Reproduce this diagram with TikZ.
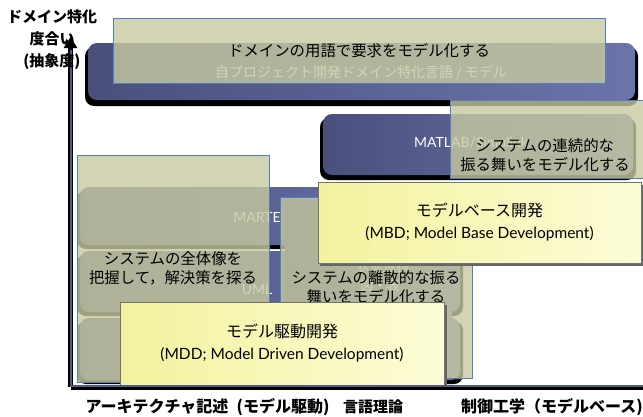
\documentclass[tikz,border=0pt]{standalone}
\usepackage{fontspec}
\setmainfont{Noto Sans CJK JP}
\newfontfamily\lat{Lato}
\usetikzlibrary{arrows.meta}
\definecolor{bluA}{RGB}{74,80,124}
\definecolor{bluB}{RGB}{108,116,172}
\definecolor{tanF}{RGB}{200,202,160}
\definecolor{tanE}{RGB}{79,129,189}
\definecolor{ylA}{RGB}{243,243,158}
\definecolor{ylB}{RGB}{252,252,214}
\definecolor{axisc}{RGB}{82,90,134}
\begin{document}
\begin{tikzpicture}[x=1pt,y=-1pt,
  bluebox/.style={rounded corners=9pt, left color=bluA, right color=bluB, inner sep=0pt},
  shade box/.style={rounded corners=9pt, fill=black},
  tanbox/.style={fill=tanF, fill opacity=0.8, text opacity=1, draw=tanE, line width=0.8pt, inner sep=0pt, align=center},
  ylbox/.style={left color=ylA, right color=ylB, draw=black!55, line width=0.6pt, inner sep=0pt, align=center},
  jp/.style={font=\fontsize{15.4}{19}\selectfont},
  wlat/.style={text=white, font=\lat\fontsize{14}{14}\selectfont, inner sep=0pt},
  axlab/.style={font=\bfseries\fontsize{16}{20}\selectfont, inner sep=0pt},
  axisline/.style={line width=5pt, black},
  axisin/.style={line width=2pt, axisc}
]
\useasboundingbox (0,0) rectangle (643,416);
\fill[white] (0,0) rectangle (643,416);

% vertical axis
\coordinate (O) at (70.5,387);
\coordinate (Ytop) at (70.5,37);
\coordinate (Ymid) at (70.5,50);
\coordinate (Xend) at (643,387);
\draw[axisline, -{Triangle[length=11pt,width=13pt]}] (O) -- (Ytop);
\draw[axisin] (O) -- (Ymid);

% top DSL block
\fill[shade box] (85,47) rectangle (638,106);
\node[bluebox, minimum width=547pt, minimum height=57pt] (dslbg) at (361.5,71.5) {};
\node[text=white, font=\fontsize{14}{14}\selectfont, inner sep=0pt] (dsltxt) at (361,73) {自プロジェクト開発ドメイン特化言語 / モデル};
\node[tanbox, jp, minimum width=492pt, minimum height=65pt] (req) at (359,51) {ドメインの用語で要求をモデル化する};

% MATLAB block
\fill[shade box] (320,118) rectangle (636,180);
\node[bluebox, minimum width=310pt, minimum height=61pt] (mlbg) at (478,144.5) {};
\node[wlat, anchor=west] (mltxt) at (414,143) {MATLAB/Simulink};
\node[tanbox, minimum width=200pt, minimum height=78pt] (contbox) at (550,139) {};
\node[jp, align=center, inner sep=0pt] (conttxt) at (545,155) {システムの連続的な\\振る舞いをモデル化する};

% MARTE / UML blocks
\fill[shade box] (77,190) rectangle (463,249);
\node[bluebox, minimum width=380pt, minimum height=58pt] (marte) at (270,216) {};
\node[wlat] (martetxt) at (257,217) {MARTE};
\fill[shade box] (77,254) rectangle (463,316);
\node[bluebox, minimum width=380pt, minimum height=61pt] (uml) at (270,281.5) {};
\node[wlat] (umltxt) at (257,290) {UML};
\fill[shade box] (77,321) rectangle (463,384);
\node[bluebox, minimum width=380pt, minimum height=62pt] (other) at (270,349) {};
\node[bluebox, minimum width=167pt, minimum height=130pt] (stm) at (368.5,265) {};
\node[text=white, font=\fontsize{13}{13}\selectfont, inner sep=0pt] (stmtxt) at (383,267) {状態遷移};
\node[text=white, font=\fontsize{13}{13}\selectfont, inner sep=0pt] (stmtxt2) at (380,286) {図・表};

% translucent description boxes
\node[tanbox, jp, minimum width=192pt, minimum height=227pt] (whole) at (173,268.5) {システムの全体像を\\把握して，解決策を探る};
\node[tanbox, jp, minimum width=192pt, minimum height=181pt] (disc) at (376,287.5) {システムの離散的な振る\\舞いをモデル化する};

% MBD
\fill[black!60] (320,185) rectangle (643,265.5);
\node[ylbox, minimum width=323pt, minimum height=81pt, font=\fontsize{16}{22}\selectfont] (mbd) at (479.5,222.5) {モデルベース開発\\{\lat\fontsize{15.5}{22}\selectfont (MBD; Model Base Development)}};

% MDD
\fill[black!60] (122,305) rectangle (446.5,386);
\node[ylbox, minimum width=324pt, minimum height=83pt, font=\fontsize{16}{22}\selectfont] (mdd) at (282,343.5) {モデル駆動開発\\{\lat\fontsize{15.5}{22}\selectfont (MDD; Model Driven Development)}};

% horizontal axis
\draw[axisline] (O) -- (Xend);
\draw[axisin] ([yshift=1pt]O) -- ([yshift=1pt]Xend);

% labels
\node[font=\bfseries\fontsize{15}{22}\selectfont, align=center, inner sep=0pt] (ylab) at (52,40) {ドメイン特化\\度合い\\(抽象度)};
\node[axlab] (xl1) at (157,407) {アーキテクチャ記述};
\node[axlab] (xl2) at (283,407) {(モデル駆動)};
\node[axlab, font=\bfseries\fontsize{15}{20}\selectfont] (xl3) at (373,407) {言語理論};
\node[axlab] (xl4) at (552,407) {制御工学（モデルベース)};
\end{tikzpicture}
\end{document}
